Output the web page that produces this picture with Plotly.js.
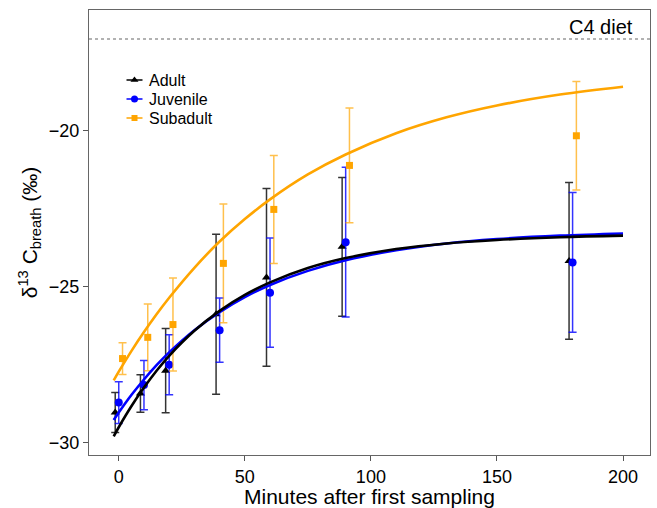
<!DOCTYPE html>
<html>
<head>
<meta charset="utf-8">
<script src="https://cdn.plot.ly/plotly-3.0.1.min.js"></script>
<style>html,body{margin:0;padding:0;background:#fff;}#chart{width:657px;height:508px;}</style>
</head>
<body>
<div id="chart"></div>
<script>
// Sampling times (minutes)
const times = [0, 10, 20, 40, 60, 90, 180];

// Group means and error (±) values
const adultMean = [-29.03, -28.42, -27.69, -25.88, -24.70, -23.72, -24.17];
const adultErr  = [0.64, 0.60, 1.35, 2.56, 2.85, 2.22, 2.51];
const juvMean   = [-28.71, -28.15, -27.50, -26.39, -25.19, -23.57, -24.22];
const juvErr    = [0.67, 0.79, 0.96, 1.03, 1.75, 2.40, 2.24];
const subMean   = [-27.30, -26.62, -26.21, -24.25, -22.52, -21.11, -20.16];
const subErr    = [0.51, 1.07, 1.49, 1.90, 1.73, 1.84, 1.74];

// Fitted curves
const fitT      = [-2, 0, 5, 10, 15, 20, 30, 40, 50, 60, 75, 90, 110, 130, 150, 175, 200];
const adultFit  = [-29.79, -29.50, -28.83, -28.23, -27.69, -27.21, -26.41, -25.77, -25.26, -24.86, -24.40, -24.08, -23.79, -23.61, -23.50, -23.41, -23.36];
const juvFit    = [-29.27, -29.03, -28.47, -27.97, -27.51, -27.10, -26.39, -25.81, -25.33, -24.94, -24.49, -24.15, -23.83, -23.61, -23.47, -23.36, -23.29];
const subFit    = [-28.00, -27.72, -27.06, -26.45, -25.88, -25.35, -24.39, -23.55, -22.83, -22.20, -21.40, -20.76, -20.08, -19.57, -19.19, -18.84, -18.59];

// C4 diet reference level
const c4Level = -17.06;
const c4Label = 'C4 diet';
const groupNames = ['Adult', 'Juvenile', 'Subadult'];

const colors = ['#000000', '#0000ff', '#ffa500'];
const barColors = ['rgba(0,0,0,0.8)', 'rgba(0,0,255,0.8)', 'rgba(255,165,0,0.7)'];
const symbols = ['triangle-up', 'circle', 'square'];
const dodge = [-1.4, 0, 1.5];
const shift = (arr, d) => arr.map(v => v + d);

function pts(i, y, err, size) {
  return {
    type: 'scatter', mode: 'markers', name: groupNames[i], showlegend: false,
    x: shift(times, dodge[i]), y: y,
    marker: {color: colors[i], symbol: symbols[i], size: size},
    error_y: {type: 'data', array: err, visible: true, color: barColors[i], thickness: 1.5, width: 4}
  };
}
function fit(y, i) {
  return {type: 'scatter', mode: 'lines', x: fitT, y: y, showlegend: false,
    line: {color: colors[i], width: 2.6, shape: 'spline', smoothing: 1}, hoverinfo: 'skip'};
}

// Custom legend on a pixel-space overlay axis (positions in plot pixels)
const legX0 = 37.5, legLen = 16, legY0 = 70, legDy = 19;
const legendTraces = [];
const legendShapes = [];
const legendAnn = [];
groupNames.forEach((name, i) => {
  const yy = legY0 + i * legDy;
  legendShapes.push({type: 'line', xref: 'x2', yref: 'y2', x0: legX0, x1: legX0 + legLen, y0: yy, y1: yy,
    line: {color: colors[i], width: 1.5}});
  legendTraces.push({type: 'scatter', mode: 'markers', xaxis: 'x2', yaxis: 'y2', showlegend: false,
    x: [legX0 + legLen / 2], y: [yy], hoverinfo: 'skip',
    marker: {color: colors[i], symbol: symbols[i], size: i === 2 ? 6 : 7}});
  legendAnn.push({xref: 'x2', yref: 'y2', x: legX0 + legLen + 4, y: yy, xanchor: 'left', yanchor: 'middle',
    text: name, showarrow: false, font: {size: 16, color: '#000'}});
});

const data = [
  pts(0, adultMean, adultErr, 8),
  pts(1, juvMean, juvErr, 8),
  pts(2, subMean, subErr, 7),
  fit(subFit, 2),
  fit(juvFit, 1),
  fit(adultFit, 0)
].concat(legendTraces);

const layout = {
  width: 657, height: 508,
  margin: {l: 89, r: 7, t: 10, b: 53},
  paper_bgcolor: '#ffffff', plot_bgcolor: '#ffffff',
  font: {family: 'Liberation Sans, Arial, sans-serif', color: '#000'},
  showlegend: false,
  xaxis: {
    range: [-11.8, 210.7], tickvals: [0, 50, 100, 150, 200],
    showgrid: false, zeroline: false, showline: true, mirror: true, linecolor: '#666', linewidth: 1,
    ticks: 'outside', ticklen: 5, tickcolor: '#555', tickfont: {size: 18},
    title: {text: 'Minutes after first sampling', font: {size: 21}, standoff: 12}
  },
  yaxis: {
    range: [-30.39, -16.13], tickvals: [-30, -25, -20],
    showgrid: false, zeroline: false, showline: true, mirror: true, linecolor: '#666', linewidth: 1,
    ticks: 'outside', ticklen: 5, tickcolor: '#555', tickfont: {size: 18},
    title: {text: 'δ<sup>13</sup> C<sub>breath</sub> (‰)', font: {size: 21}, standoff: 5}
  },
  xaxis2: {overlaying: 'x', anchor: 'y2', range: [0, 561], visible: false, fixedrange: true},
  yaxis2: {overlaying: 'y', anchor: 'x2', range: [445, 0], visible: false, fixedrange: true},
  shapes: [{type: 'line', xref: 'paper', x0: 0, x1: 1, yref: 'y', y0: c4Level, y1: c4Level,
    line: {color: '#666', width: 1.2, dash: 'dot'}}].concat(legendShapes),
  annotations: [{xref: 'x', yref: 'y', x: 204.8, y: -16.67, xanchor: 'right', yanchor: 'middle',
    text: c4Label, showarrow: false, font: {size: 20, color: '#000'}}].concat(legendAnn)
};

Plotly.newPlot('chart', data, layout, {displayModeBar: false, staticPlot: true});
</script>
</body>
</html>
